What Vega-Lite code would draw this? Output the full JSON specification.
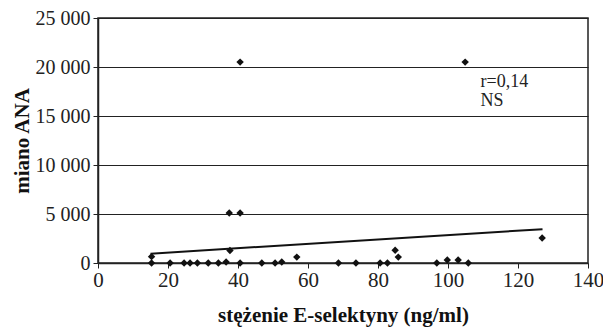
{
  "$schema": "https://vega.github.io/schema/vega-lite/v6.json",
  "width": 490,
  "height": 245,
  "autosize": {"type": "none"},
  "padding": {"left": 98, "top": 18, "right": 15, "bottom": 64},
  "background": "white",
  "config": {
    "view": {"stroke": "#222", "strokeWidth": 1.5},
    "font": "Liberation Serif"
  },
  "datasets": {
    "points": [
      {"sel": 15.3, "ana": 650},
      {"sel": 15.3, "ana": 0},
      {"sel": 20.6, "ana": 0},
      {"sel": 24.6, "ana": 0},
      {"sel": 26.3, "ana": 0},
      {"sel": 28.4, "ana": 0},
      {"sel": 31.5, "ana": 0},
      {"sel": 34.4, "ana": 0},
      {"sel": 36.6, "ana": 100},
      {"sel": 37.7, "ana": 1280},
      {"sel": 37.5, "ana": 5100},
      {"sel": 40.6, "ana": 5100},
      {"sel": 40.6, "ana": 20500},
      {"sel": 40.6, "ana": 0},
      {"sel": 46.8, "ana": 0},
      {"sel": 50.6, "ana": 0},
      {"sel": 52.5, "ana": 100},
      {"sel": 56.8, "ana": 600},
      {"sel": 68.7, "ana": 0},
      {"sel": 73.7, "ana": 0},
      {"sel": 80.6, "ana": 0},
      {"sel": 82.7, "ana": 0},
      {"sel": 84.9, "ana": 1300},
      {"sel": 85.8, "ana": 600},
      {"sel": 96.8, "ana": 0},
      {"sel": 99.8, "ana": 300},
      {"sel": 102.9, "ana": 300},
      {"sel": 104.9, "ana": 20500},
      {"sel": 105.8, "ana": 0},
      {"sel": 126.9, "ana": 2550}
    ],
    "trend": [
      {"sel": 15, "ana": 950},
      {"sel": 127, "ana": 3450}
    ],
    "notes": [
      {"sel": 109.3, "ana": 17960, "txt": "r=0,14"},
      {"sel": 109.3, "ana": 16020, "txt": "NS"}
    ]
  },
  "encoding": {
    "x": {
      "field": "sel", "type": "quantitative",
      "scale": {"domain": [0, 140], "nice": false},
      "axis": {
        "values": [0, 20, 40, 60, 80, 100, 120, 140],
        "grid": false,
        "title": "stężenie E-selektyny (ng/ml)",
        "titleFont": "Liberation Serif", "titleFontSize": 21, "titleFontWeight": "bold",
        "titleColor": "#111", "titleBaseline": "alphabetic", "titleY": 58,
        "labelFont": "Liberation Serif", "labelFontSize": 21, "labelColor": "#222",
        "labelPadding": 1,
        "domainColor": "#222", "domainWidth": 1.5,
        "tickColor": "#222", "tickSize": 5, "labelFlush": false
      }
    },
    "y": {
      "field": "ana", "type": "quantitative",
      "scale": {"domain": [0, 25000], "nice": false},
      "axis": {
        "values": [0, 5000, 10000, 15000, 20000, 25000],
        "labelExpr": "replace(format(datum.value, ','), ',', ' ')",
        "grid": true, "gridColor": "#222", "gridWidth": 1.2,
        "title": "miano ANA",
        "titleFont": "Liberation Serif", "titleFontSize": 21, "titleFontWeight": "bold",
        "titleColor": "#111", "titleAngle": -90, "titleBaseline": "alphabetic",
        "titleAlign": "center", "titleX": -70, "titleY": 122.5,
        "labelFont": "Liberation Serif", "labelFontSize": 20, "labelColor": "#222",
        "labelPadding": 3,
        "domainColor": "#222", "domainWidth": 1.5,
        "tickColor": "#222", "tickSize": 5
      }
    }
  },
  "layer": [
    {
      "data": {"name": "trend"},
      "mark": {"type": "line", "color": "#111", "strokeWidth": 2}
    },
    {
      "data": {"name": "points"},
      "mark": {"type": "point", "shape": "diamond", "filled": true, "color": "#111", "size": 55, "opacity": 1}
    },
    {
      "data": {"name": "notes"},
      "mark": {"type": "text", "align": "left", "baseline": "alphabetic", "font": "Liberation Serif", "fontSize": 18, "color": "#222"},
      "encoding": {"text": {"field": "txt"}}
    }
  ]
}
